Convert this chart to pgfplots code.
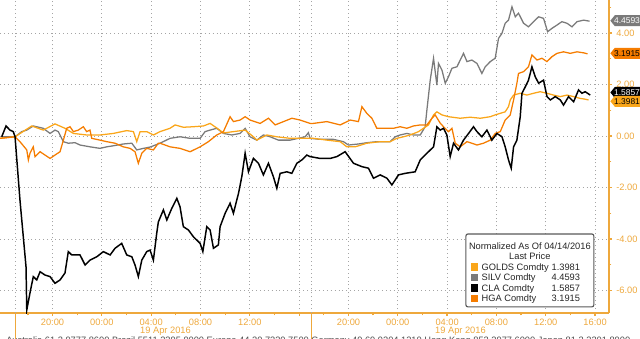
\documentclass[border=0pt]{standalone}
\usepackage{pgfplots}
\pgfplotsset{compat=1.18}
\usepackage{fontspec}
\setmainfont{Liberation Sans}
\definecolor{goldc}{RGB}{250,166,26}
\definecolor{hgac}{RGB}{245,124,0}
\definecolor{silvc}{RGB}{122,122,122}
\definecolor{axor}{RGB}{238,168,60}
\definecolor{gridc}{RGB}{165,165,165}
\begin{document}
\begin{tikzpicture}
\clip (0,0) rectangle (16cm,8.45cm);
\begin{axis}[
  at={(0,0.625cm)}, anchor=south west,
  scale only axis, width=15.225cm, height=7.825cm,
  xmin=-4.26, xmax=45.13, ymin=-6.874, ymax=5.282,
  axis x line*=bottom, axis y line*=right,
  axis line style={axor, line width=0.9pt},
  xtick={0,4,...,44},
  xticklabels={20:00,00:00,04:00,08:00,12:00,,20:00,00:00,04:00,08:00,12:00,16:00},
  minor xtick={-2,2,6,10,14,18,22,26,30,34,38,42},
  extra x ticks={-3,21}, extra x tick labels={},
  extra x tick style={grid=major, major tick length=0.65cm, tick style={axor, line width=0.9pt}},
  ytick={-6,-4,-2,0,2,4}, yticklabels={-6.00,-4.00,-2.00,0.00,2.00,4.00},
  minor ytick={-5,-3,-1,1,3,5},
  tick align=outside,
  major tick length=0.08cm, minor tick length=0.06cm,
  tick style={axor, line width=0.9pt},
  grid=major,
  major grid style={gridc, line width=0.6pt, dash pattern=on 0.7pt off 2.1pt},
  ticklabel style={font=\fontsize{6.6}{8}\selectfont, text=axor},
  xticklabel style={yshift=0.05cm},
  yticklabel style={xshift=-0.02cm},
  clip=true,
]
% SILV
\addplot[silvc, line width=0.9pt] coordinates {
(-4.12,-0.03)(-3.04,-0.03)(-2.50,0.17)(-2.09,0.23)(-1.56,0.39)(-0.75,0.30)(-0.20,0.10)(0.20,0.23)(0.47,0.17)(0.88,-0.22)(1.28,-0.28)(1.83,-0.26)(2.23,-0.35)(3.04,-0.42)(3.85,-0.48)(4.40,-0.42)(4.93,-0.38)(5.74,-0.31)(6.43,-0.28)(6.83,-0.54)(7.37,-0.48)(7.91,-0.43)(8.72,-0.28)(9.53,-0.09)(10.34,-0.03)(11.16,-0.09)(11.97,-0.09)(12.37,0.17)(12.78,0.23)(13.32,0.30)(13.86,0.10)(14.54,0.04)(15.21,0.10)(15.62,0.30)(16.02,-0.03)(16.57,-0.16)(17.10,0.04)(17.65,-0.03)(18.32,-0.16)(19.27,-0.16)(19.94,-0.09)(20.49,-0.03)(20.75,0.13)(20.89,-0.09)(21.70,-0.13)(22.78,-0.13)(23.59,-0.22)(24.00,-0.35)(24.81,-0.31)(25.49,-0.26)(26.30,-0.22)(27.38,-0.22)(27.79,-0.03)(28.19,0.04)(28.74,0.10)(29.27,0.04)(29.82,0.04)(30.22,0.36)(30.36,1.01)(30.63,2.17)(30.90,3.02)(31.17,1.98)(31.30,2.82)(31.58,2.56)(31.85,2.05)(32.11,2.30)(32.39,2.63)(32.80,2.69)(33.33,3.21)(33.61,2.89)(34.01,2.95)(34.42,2.82)(34.82,2.43)(35.09,2.69)(35.50,2.89)(35.90,3.02)(36.17,3.79)(36.45,3.99)(36.71,4.38)(36.98,4.50)(37.26,5.02)(37.53,4.63)(37.79,4.77)(38.20,4.38)(38.60,4.24)(39.01,4.44)(39.42,4.63)(39.82,4.57)(40.15,4.05)(40.50,4.18)(40.91,4.31)(41.31,4.44)(41.72,4.38)(42.13,4.24)(42.53,4.44)(43.07,4.50)(43.55,4.46)
};
% GOLDS
\addplot[goldc, line width=0.9pt] coordinates {
(-4.26,-0.09)(-3.04,-0.03)(-1.69,0.39)(-0.75,0.23)(0.20,0.47)(1.01,0.30)(1.69,0.10)(2.77,0.04)(3.85,0.04)(4.93,0.10)(6.02,0.21)(6.56,0.17)(6.83,-0.22)(7.10,0.17)(7.64,0.17)(8.18,0.04)(8.72,0.17)(9.53,0.30)(9.94,0.43)(10.61,0.34)(11.42,0.36)(12.24,0.39)(12.78,0.49)(13.32,0.31)(13.86,0.12)(14.67,0.17)(15.62,0.23)(16.29,-0.03)(16.57,-0.16)(17.38,0.04)(18.19,-0.03)(19.27,-0.09)(20.35,-0.09)(21.16,-0.09)(22.25,-0.16)(23.33,-0.22)(23.87,-0.42)(24.54,-0.42)(25.49,-0.28)(26.57,-0.22)(27.38,-0.22)(27.93,-0.09)(28.46,-0.03)(29.00,0.04)(29.68,0.17)(30.09,0.30)(30.49,0.43)(30.90,0.82)(31.17,0.94)(31.58,0.82)(32.11,0.75)(33.06,0.69)(33.87,0.73)(34.69,0.69)(35.50,0.75)(35.90,0.82)(36.31,0.88)(36.71,0.94)(36.98,1.14)(37.12,1.40)(37.39,1.59)(37.93,1.66)(38.47,1.59)(39.01,1.66)(39.55,1.72)(40.10,1.66)(40.63,1.59)(41.18,1.53)(41.72,1.59)(42.26,1.53)(42.80,1.46)(43.20,1.43)(43.47,1.40)
};
% HGA
\addplot[hgac, line width=0.9pt] coordinates {
(-4.26,-0.09)(-3.04,-0.03)(-2.64,-0.22)(-2.09,-0.54)(-1.96,-0.93)(-1.83,-0.67)(-1.56,-0.42)(-1.42,-0.80)(-1.01,-0.61)(-0.61,-0.74)(-0.20,-0.87)(0.20,-0.74)(0.61,-0.61)(0.88,-0.16)(1.15,0.30)(1.42,0.36)(1.69,0.17)(2.09,0.23)(2.50,0.36)(2.77,0.17)(3.04,0.23)(3.18,-0.09)(3.85,-0.16)(4.40,-0.22)(5.07,-0.28)(5.74,-0.42)(6.29,-0.48)(6.69,-0.61)(6.96,-1.06)(7.24,-0.67)(7.64,-0.48)(8.18,-0.54)(8.58,-0.28)(8.72,-0.28)(9.53,-0.42)(10.34,-0.48)(11.16,-0.61)(11.97,-0.42)(12.64,-0.22)(13.32,0.04)(13.86,0.17)(14.40,0.75)(14.67,0.56)(15.21,0.62)(15.62,0.75)(16.02,0.62)(16.84,0.49)(17.51,0.69)(18.05,0.43)(18.73,0.56)(19.41,0.69)(20.08,0.62)(20.89,0.49)(21.16,0.49)(22.25,0.56)(23.33,0.43)(24.14,0.62)(24.81,0.56)(25.09,1.14)(25.49,0.88)(25.90,0.69)(26.30,0.30)(26.98,0.30)(27.65,0.30)(28.19,0.36)(28.74,0.30)(29.27,0.39)(29.82,0.43)(30.36,0.43)(30.77,0.69)(31.03,0.82)(31.44,0.50)(31.71,0.36)(32.11,0.17)(32.39,0.30)(32.66,-0.28)(33.06,-0.42)(33.61,-0.22)(34.01,-0.28)(34.42,-0.35)(34.95,-0.28)(35.50,-0.16)(35.90,0.10)(36.31,0.17)(36.71,0.62)(37.12,0.82)(37.39,1.40)(37.66,2.05)(37.79,2.43)(38.20,2.50)(38.60,2.69)(38.88,3.15)(39.29,2.95)(39.69,3.02)(40.10,2.89)(40.50,3.08)(40.91,3.21)(41.44,3.27)(41.99,3.21)(42.53,3.27)(43.07,3.23)(43.39,3.19)
};
% CLA
\addplot[black, line width=1.05pt] coordinates {
(-4.12,-0.03)(-3.77,0.39)(-3.45,0.23)(-3.18,0.17)(-3.04,-0.03)(-2.64,-2.49)(-2.15,-5.08)(-2.09,-6.76)(-1.83,-6.10)(-1.56,-5.46)(-1.28,-5.59)(-1.01,-5.27)(-0.61,-5.40)(-0.20,-5.46)(0.20,-5.72)(0.61,-5.59)(1.01,-5.32)(1.28,-4.49)(1.56,-4.62)(2.23,-4.62)(2.64,-5.01)(3.04,-4.82)(3.59,-4.69)(4.12,-4.49)(4.67,-4.62)(5.07,-4.36)(5.61,-4.17)(6.02,-4.62)(6.43,-4.69)(6.69,-5.01)(6.96,-5.46)(7.24,-4.82)(7.64,-4.49)(7.91,-4.43)(8.18,-4.82)(8.45,-3.78)(8.58,-3.34)(8.99,-2.87)(9.27,-3.26)(9.67,-2.81)(10.08,-2.42)(10.34,-2.75)(10.61,-3.52)(11.02,-3.65)(11.42,-3.91)(11.97,-4.17)(12.19,-4.49)(12.51,-3.52)(12.78,-3.65)(13.05,-4.36)(13.45,-4.23)(13.59,-3.52)(14.00,-3.00)(14.40,-2.61)(14.67,-3.00)(15.08,-2.23)(15.35,-1.58)(15.62,-0.67)(15.89,-1.39)(16.29,-0.87)(16.70,-1.06)(17.10,-1.51)(17.51,-1.06)(17.91,-1.58)(18.19,-2.03)(18.46,-1.45)(19.00,-1.39)(19.41,-1.45)(19.81,-1.06)(20.22,-0.93)(20.62,-0.74)(20.89,-0.80)(21.70,-0.87)(22.52,-0.87)(23.06,-0.80)(23.73,-0.61)(24.41,-1.06)(25.09,-1.19)(25.62,-1.25)(26.03,-1.64)(26.57,-1.51)(27.12,-1.64)(27.52,-1.90)(28.06,-1.51)(28.60,-1.45)(29.41,-1.39)(29.82,-0.93)(30.36,-0.67)(30.90,-0.42)(31.17,0.36)(31.44,0.23)(31.71,0.30)(31.98,0.04)(32.25,-0.80)(32.52,-0.28)(32.92,-0.54)(33.33,-0.16)(33.74,0.10)(34.14,0.36)(34.42,0.17)(34.82,-0.03)(35.23,0.23)(35.63,-0.16)(36.04,0.10)(36.45,-0.03)(36.71,-0.42)(36.98,-0.93)(37.20,-1.25)(37.39,-0.42)(37.66,-0.16)(37.93,0.75)(38.07,1.66)(38.34,1.91)(38.60,2.17)(38.88,2.69)(39.15,2.30)(39.42,2.05)(39.82,2.17)(40.10,1.53)(40.37,1.40)(40.77,1.53)(41.18,1.40)(41.44,1.20)(41.85,1.53)(42.26,1.33)(42.66,1.79)(42.94,1.66)(43.20,1.72)(43.61,1.59)
};
\end{axis}
\begin{scope}[shift={(0,8.45cm)}, x=0.025cm, y=-0.025cm, font=\fontsize{6.6}{8}\selectfont]
  % date labels
  \node[anchor=base west, inner sep=0, text=axor] at (140,333.5) {19 Apr 2016};
  \node[anchor=base west, inner sep=0, text=axor] at (435,333.5) {19 Apr 2016};
  % footer (cut off by the picture edge, as in the reference)
  \node[anchor=north west, inner sep=0, text=black!70] at (6,336.5) {Australia 61 2 9777 8600 Brazil 5511 2395 9000 Europe 44 20 7330 7500 Germany 49 69 9204 1210 Hong Kong 852 2977 6000 Japan 81 3 3201 8900};
  % last value labels
  \begin{scope}[font=\fontsize{6.0}{7}\selectfont]
  \fill[silvc] (610.5,20.7) -- (615,15.2) -- (650,15.2) -- (650,26.2) -- (615,26.2) -- cycle;
  \node[anchor=base west, inner sep=0, text=white] at (614,23.7) {4.4593};
  \fill[hgac] (610.5,53.3) -- (615,47.8) -- (650,47.8) -- (650,58.8) -- (615,58.8) -- cycle;
  \node[anchor=base west, inner sep=0, text=black] at (614,56.3) {3.1915};
  \fill[black] (610.5,92.5) -- (615,87) -- (650,87) -- (650,98) -- (615,98) -- cycle;
  \node[anchor=base west, inner sep=0, text=white] at (614,95.5) {1.5857};
  \fill[goldc] (610.5,101.3) -- (615,95.8) -- (650,95.8) -- (650,106.8) -- (615,106.8) -- cycle;
  \node[anchor=base west, inner sep=0, text=black] at (614,104.3) {1.3981};
  \end{scope}
  % legend box
  \draw[black!65, line width=0.8pt, fill=white, rounded corners=1.5pt] (466,234) rectangle (594,307);
  \node[anchor=base, inner sep=0, text=black!85] at (530,249.3) {Normalized As Of 04/14/2016};
  \node[anchor=base, inner sep=0, text=black!85] at (530,259.8) {Last Price};
  \fill[goldc] (471,263.2) rectangle (478.5,270.7);
  \node[anchor=base west, inner sep=0, text=black!85] at (481.5,270.3) {GOLDS Comdty};
  \node[anchor=base west, inner sep=0, text=black!85] at (551.5,270.3) {1.3981};
  \fill[silvc] (471,273.8) rectangle (478.5,281.3);
  \node[anchor=base west, inner sep=0, text=black!85] at (481.5,280.9) {SILV Comdty};
  \node[anchor=base west, inner sep=0, text=black!85] at (551.5,280.9) {4.4593};
  \fill[black] (471,284.4) rectangle (478.5,291.9);
  \node[anchor=base west, inner sep=0, text=black!85] at (481.5,291.5) {CLA Comdty};
  \node[anchor=base west, inner sep=0, text=black!85] at (551.5,291.5) {1.5857};
  \fill[hgac] (471,294.8) rectangle (478.5,302.3);
  \node[anchor=base west, inner sep=0, text=black!85] at (481.5,301.9) {HGA Comdty};
  \node[anchor=base west, inner sep=0, text=black!85] at (551.5,301.9) {3.1915};
\end{scope}
\end{tikzpicture}
\end{document}
